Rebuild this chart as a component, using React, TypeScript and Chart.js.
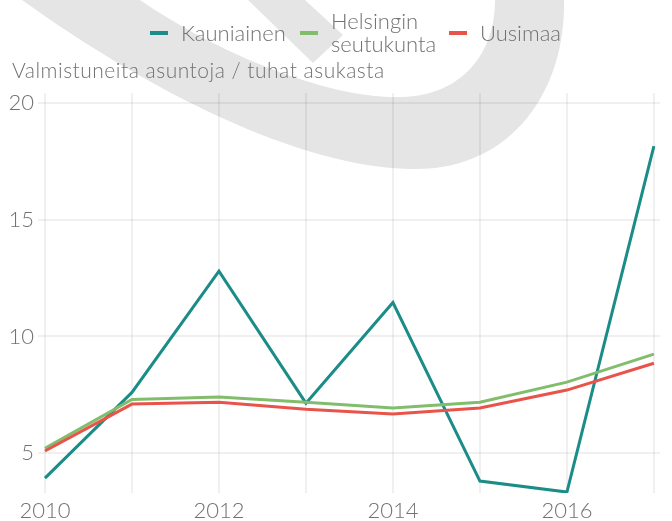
import React, { useEffect, useRef } from "react";
import { Chart, registerables } from "chart.js";

Chart.register(...registerables);

const years = [2010, 2011, 2012, 2013, 2014, 2015, 2016, 2017];
const kauniainen = [3.93, 7.6, 12.8, 7.14, 11.45, 3.8, 3.33, 18.15];
const helsinginSeutukunta = [5.2, 7.3, 7.4, 7.18, 6.93, 7.18, 8.04, 9.24];
const uusimaa = [5.09, 7.1, 7.18, 6.88, 6.67, 6.93, 7.7, 8.85];
const yTicks = [5, 10, 15, 20];
const xLabelYears = [2010, 2012, 2014, 2016];

const seriesNames = ["Kauniainen", "Helsingin seutukunta", "Uusimaa"];
const colors = ["#1b8c87", "#82bd6c", "#e9534a"];

const FONT = "Lato, 'Open Sans', sans-serif";
const TEXT_COLOR = "#727272";
const GRID = "rgba(0,0,0,0.06)";

const watermark = {
  id: "watermark",
  beforeDraw(chart: any) {
    const ctx = chart.ctx;
    ctx.save();
    ctx.fillStyle = "#e5e5e5";
    // outer U band
    ctx.beginPath();
    ctx.moveTo(22, 0);
    ctx.bezierCurveTo(150, 92, 300, 167, 410, 169);
    ctx.bezierCurveTo(512, 172, 566, 90, 564, 0);
    ctx.lineTo(495, 0);
    ctx.bezierCurveTo(495, 60, 455, 97, 400, 97);
    ctx.bezierCurveTo(330, 99, 220, 55, 140, 0);
    ctx.closePath();
    ctx.fill();
    // chevron
    ctx.beginPath();
    ctx.moveTo(248, 0);
    ctx.lineTo(313, 63);
    ctx.lineTo(343, 35);
    ctx.lineTo(305, 0);
    ctx.closePath();
    ctx.fill();
    ctx.restore();
  },
};

function LegendItem(props: { color: string; left: number; textLeft: number; lines: string[]; top: number }) {
  return (
    <>
      <div
        style={{
          position: "absolute",
          left: props.left,
          top: 31,
          width: 18,
          height: 4,
          background: props.color,
        }}
      />
      <div
        style={{
          position: "absolute",
          left: props.textLeft,
          top: props.top,
          fontFamily: FONT,
          fontWeight: 300,
          fontSize: 22,
          lineHeight: "23px",
          color: TEXT_COLOR,
          whiteSpace: "pre",
        }}
      >
        {props.lines.join("\n")}
      </div>
    </>
  );
}

export default function App() {
  const ref = useRef<HTMLCanvasElement>(null);

  useEffect(() => {
    const canvas = ref.current;
    if (!canvas) return;
    const chart = new Chart(canvas, {
      type: "line",
      data: {
        labels: years,
        datasets: [
          {
            label: seriesNames[0],
            data: years.map((y, i) => ({ x: y, y: kauniainen[i] })),
            borderColor: colors[0],
            backgroundColor: colors[0],
            order: 3,
          },
          {
            label: seriesNames[1],
            data: years.map((y, i) => ({ x: y, y: helsinginSeutukunta[i] })),
            borderColor: colors[1],
            backgroundColor: colors[1],
            order: 2,
          },
          {
            label: seriesNames[2],
            data: years.map((y, i) => ({ x: y, y: uusimaa[i] })),
            borderColor: colors[2],
            backgroundColor: colors[2],
            order: 1,
          },
        ],
      },
      options: {
        animation: false,
        responsive: false,
        devicePixelRatio: 1,
        events: [],
        elements: {
          line: { borderWidth: 3, tension: 0, borderJoinStyle: "miter", borderCapStyle: "butt" },
          point: { radius: 0 },
        },
        layout: { padding: { top: 93, right: 12, left: 0, bottom: 0 } },
        plugins: {
          legend: { display: false },
          title: { display: false },
          tooltip: { enabled: false },
        },
        scales: {
          x: {
            type: "linear",
            min: 2009.92,
            max: 2017.07,
            afterBuildTicks: (axis: any) => {
              axis.ticks = years.map((v) => ({ value: v }));
            },
            afterFit: (axis: any) => {
              axis.height = 28;
            },
            ticks: {
              autoSkip: false,
              maxRotation: 0,
              padding: 5,
              color: TEXT_COLOR,
              font: { family: FONT, size: 22, weight: "300" },
              callback: (v: any) => (xLabelYears.includes(Number(v)) ? String(v) : ""),
            },
            grid: { color: GRID, lineWidth: 2, drawTicks: false },
            border: { display: false },
          },
          y: {
            type: "linear",
            min: 3.29,
            max: 20.43,
            afterBuildTicks: (axis: any) => {
              axis.ticks = yTicks.map((v) => ({ value: v }));
            },
            afterFit: (axis: any) => {
              axis.width = 38;
            },
            ticks: {
              padding: 4,
              color: TEXT_COLOR,
              font: { family: FONT, size: 22, weight: "300" },
              callback: (v: any) => String(v),
            },
            grid: { color: GRID, lineWidth: 2, drawTicks: false },
            border: { display: false },
          },
        },
      },
      plugins: [watermark],
    });
    return () => chart.destroy();
  }, []);

  return (
    <div
      style={{
        position: "fixed",
        left: 0,
        top: 0,
        width: 672,
        height: 521,
        background: "#ffffff",
        overflow: "hidden",
      }}
    >
      <canvas ref={ref} width={672} height={521} style={{ position: "absolute", left: 0, top: 0 }} />
      <LegendItem color={colors[0]} left={150} textLeft={181} top={21} lines={["Kauniainen"]} />
      <LegendItem color={colors[1]} left={300} textLeft={331} top={9} lines={["Helsingin", "seutukunta"]} />
      <LegendItem color={colors[2]} left={449} textLeft={480} top={21} lines={["Uusimaa"]} />
      <div
        style={{
          position: "absolute",
          left: 12,
          top: 58,
          fontFamily: FONT,
          fontWeight: 300,
          fontSize: 21,
          letterSpacing: "0.5px",
          lineHeight: "24px",
          color: TEXT_COLOR,
          whiteSpace: "pre",
        }}
      >
        Valmistuneita asuntoja / tuhat asukasta
      </div>
    </div>
  );
}
